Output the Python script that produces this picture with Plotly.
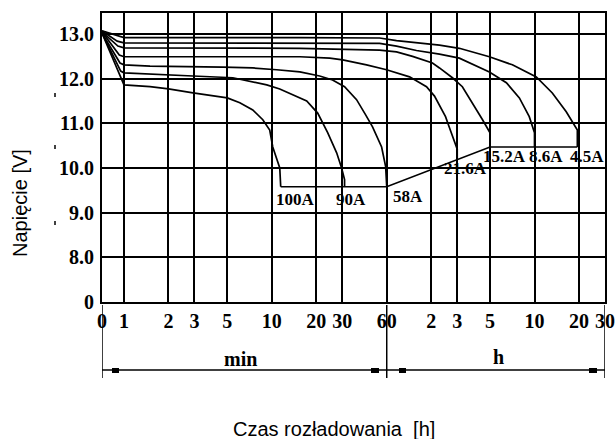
import numpy as np
import plotly.graph_objects as go

# ---- data: discharge time (minutes) vs. voltage (V) ----
t_4_5 = [0.71, 0.83, 0.91, 1.0, 15.5, 53.7, 69.9, 104.8, 136.5, 186, 297, 425, 617, 792, 984, 1170, 1170]
v_4_5 = [13.07, 13.0, 12.96, 12.92, 12.92, 12.91, 12.85, 12.79, 12.75, 12.68, 12.49, 12.31, 12.04, 11.68, 11.26, 10.85, 10.47]

t_8_6 = [0.71, 0.90, 1.0, 53.7, 69.9, 95.4, 136.5, 186, 297, 387, 474, 553, 600, 600]
v_8_6 = [13.07, 12.84, 12.80, 12.79, 12.73, 12.63, 12.55, 12.46, 12.15, 11.91, 11.57, 11.15, 10.79, 10.47]

t_15_2 = [0.71, 0.91, 1.0, 15.5, 53.7, 69.9, 89.7, 122.4, 136.5, 167, 195, 228, 267, 300, 300]
v_15_2 = [13.05, 12.73, 12.69, 12.68, 12.64, 12.60, 12.50, 12.35, 12.24, 12.02, 11.82, 11.46, 11.08, 10.79, 10.47]

t_21_6 = [0.71, 0.93, 1.0, 15.5, 24.7, 30.2, 43.8, 59.8, 85.6, 111.5, 126.3, 136.5, 150, 159.5, 170, 180, 180]
v_21_6 = [13.05, 12.53, 12.49, 12.49, 12.46, 12.42, 12.31, 12.20, 12.04, 11.82, 11.61, 11.41, 11.15, 10.90, 10.63, 10.42, 10.19]

t_58 = [0.71, 0.94, 1.0, 1.5, 4.67, 7.44, 10.8, 15.5, 21.1, 25.8, 31.1, 37.5, 43.2, 48.1, 55.4, 59, 60]
v_58 = [13.02, 12.35, 12.31, 12.28, 12.26, 12.24, 12.20, 12.15, 12.06, 11.97, 11.82, 11.53, 11.19, 10.92, 10.47, 10.03, 9.58]

t_90 = [0.71, 0.95, 1.0, 1.5, 2.93, 5.45, 6.78, 9.25, 11.33, 14.75, 17.24, 20.46, 23.9, 27.5, 29.7, 31.1, 31.1]
v_90 = [13.02, 12.17, 12.13, 12.11, 12.06, 12.02, 11.95, 11.86, 11.77, 11.59, 11.50, 11.23, 10.79, 10.34, 10.0, 9.74, 9.58]

t_100 = [0.71, 0.97, 1.0, 1.5, 2.0, 2.93, 5.0, 6.08, 7.44, 8.70, 9.69, 10.16, 10.81, 11.33, 11.5]
v_100 = [13.02, 11.97, 11.86, 11.82, 11.77, 11.68, 11.57, 11.46, 11.30, 11.08, 10.85, 10.47, 10.18, 10.0, 9.58]

# end-of-discharge (cut-off) line
t_cut = [11.5, 60, 300, 1170]
v_cut = [9.58, 9.58, 10.47, 10.47]

label_text = ["100A", "90A", "58A", "21.6A", "15.2A", "8.6A", "4.5A"]
label_t = [14.5, 34.2, 83, 205, 375, 721, 1365]
label_v = [9.29, 9.29, 9.36, 10.0, 10.25, 10.25, 10.25]

x_tickvals = [0.71, 1, 2, 3, 5, 10, 20, 30, 60, 120, 180, 300, 600, 1200, 1800]
x_ticktext = ["0", "1", "2", "3", "5", "10", "20", "30", "60", "2", "3", "5", "10", "20", "30"]
y_tickvals = [7, 8, 9, 10, 11, 12, 13]
y_ticktext = ["0", "8.0", "9.0", "10.0", "11.0", "12.0", "13.0"]

# ---- figure ----
W, H = 616, 439
ML, MR, MT, MB = 102, 11, 13, 137
PW, PH = W - ML - MR, H - MT - MB

def px(xp):
    return (xp - ML) / PW

def py(yp):
    return (H - MB - yp) / PH

SERIF = "Liberation Serif, Times New Roman, serif"
SANS = "Liberation Sans, Arial, sans-serif"

fig = go.Figure()
series = [(t_4_5, v_4_5), (t_8_6, v_8_6), (t_15_2, v_15_2), (t_21_6, v_21_6),
          (t_58, v_58), (t_90, v_90), (t_100, v_100), (t_cut, v_cut)]
for t, v in series:
    fig.add_trace(go.Scatter(x=t, y=v, mode="lines",
                             line=dict(color="black", width=1.7),
                             showlegend=False, hoverinfo="skip", cliponaxis=False))

annotations = []
for txt, t, v in zip(label_text, label_t, label_v):
    annotations.append(dict(x=np.log10(t), y=v, xref="x", yref="y", text=txt,
                            showarrow=False, xanchor="center", yanchor="middle",
                            font=dict(family=SERIF, size=17, color="black", weight="bold")))

# unit labels under the axis
annotations.append(dict(x=px(240), y=py(359), xref="paper", yref="paper", text="min",
                        showarrow=False, xanchor="center", yanchor="middle",
                        font=dict(family=SERIF, size=20, color="black", weight="bold")))
annotations.append(dict(x=px(498), y=py(357), xref="paper", yref="paper", text="h",
                        showarrow=False, xanchor="center", yanchor="middle",
                        font=dict(family=SERIF, size=20, color="black", weight="bold")))

# axis titles
annotations.append(dict(x=px(334), y=py(429), xref="paper", yref="paper",
                        text="Czas rozładowania\u00a0\u00a0[h]", showarrow=False,
                        xanchor="center", yanchor="middle",
                        font=dict(family=SANS, size=20, color="black")))
annotations.append(dict(x=px(20), y=py(203), xref="paper", yref="paper",
                        text="Napięcie [V]", textangle=-90, showarrow=False,
                        xanchor="center", yanchor="middle",
                        font=dict(family=SANS, size=20, color="black")))

shapes = []
# dimension lines below the axis
for tv in [0.71, 60, 1800]:
    shapes.append(dict(type="line", xref="x", yref="paper", x0=tv, x1=tv,
                       y0=py(305), y1=py(378), line=dict(color="black", width=1.5)))
shapes.append(dict(type="line", xref="x", yref="paper", x0=0.71, x1=1800,
                   y0=py(370), y1=py(370), line=dict(color="black", width=1.5)))
for a, b in [(112, 119), (371, 379), (399, 406), (589, 597)]:
    shapes.append(dict(type="rect", xref="paper", yref="paper", x0=px(a), x1=px(b),
                       y0=py(373), y1=py(368), fillcolor="black", line=dict(width=0)))
# small specks left of the axis
for yy in [95, 147, 223]:
    shapes.append(dict(type="line", xref="paper", yref="paper", x0=px(55), x1=px(55),
                       y0=py(yy - 2), y1=py(yy + 2), line=dict(color="black", width=1.5)))

fig.update_layout(
    width=W, height=H,
    margin=dict(l=ML, r=MR, t=MT, b=MB, autoexpand=False),
    paper_bgcolor="white", plot_bgcolor="white",
    annotations=annotations, shapes=shapes,
    xaxis=dict(type="log", range=[np.log10(0.71), np.log10(1800)],
               tickvals=x_tickvals, ticktext=x_ticktext,
               tickfont=dict(family=SERIF, size=20, color="black", weight="bold"),
               showgrid=True, gridcolor="black", gridwidth=2,
               showline=True, linecolor="black", linewidth=2, mirror=True,
               ticks="", zeroline=False, ticklabelstandoff=0, automargin=False),
    yaxis=dict(range=[7.0, 13.47],
               tickvals=y_tickvals, ticktext=y_ticktext,
               tickfont=dict(family=SERIF, size=20, color="black", weight="bold"),
               showgrid=True, gridcolor="black", gridwidth=2,
               showline=True, linecolor="black", linewidth=2, mirror=True,
               ticks="", zeroline=False, ticklabelstandoff=2, automargin=False),
)

fig.write_html("out.html", config={"displayModeBar": False},
               post_script="document.body.style.margin='0';document.body.style.overflow='hidden';")
